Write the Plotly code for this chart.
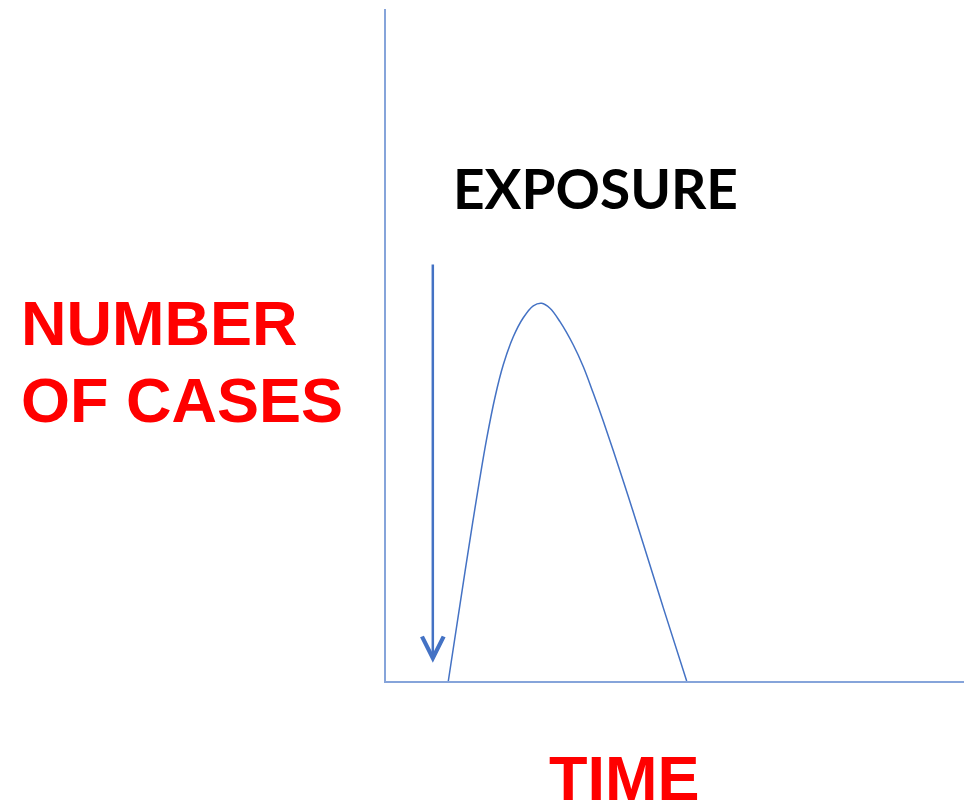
import plotly.graph_objects as go

# ── Data (time and case counts in arbitrary units) ────────────────────────────
time_pts = [10.78, 13.67, 15.10, 16.14, 17.42, 18.86, 20.29, 22.02, 23.75,
            25.48, 26.94, 28.37, 30.10, 32.41, 34.14, 35.87, 37.60, 39.33,
            41.92, 44.52, 47.98, 52.02]
case_pts = [0.0, 16.29, 24.14, 29.67, 36.06, 42.23, 47.05, 51.22, 54.05,
            55.83, 56.21, 55.46, 53.47, 50.00, 46.77, 42.81, 38.65, 34.26,
            27.44, 20.40, 10.88, 0.0]
exposure_time  = 8.1
exposure_start = 62.2   # top of the arrow
exposure_end   = 2.7    # arrow tip

# ── Colours ───────────────────────────────────────────────────────────────────
CURVE = "#4472C4"
AXIS  = "#86A4DA"
RED   = "#FF0000"

fig = go.Figure()
fig.add_trace(go.Scatter(
    x=time_pts, y=case_pts, mode="lines",
    line=dict(color=CURVE, width=1.5, shape="spline", smoothing=1.0),
    hoverinfo="skip", showlegend=False
))

# exposure arrow
fig.add_annotation(
    x=exposure_time, y=exposure_end, ax=exposure_time, ay=exposure_start,
    xref="x", yref="y", axref="x", ayref="y",
    text="", showarrow=True, arrowhead=5, arrowsize=1.7,
    arrowwidth=2.5, arrowcolor=CURVE
)

labels = [
    # text, x, y, xanchor, family, size, colour
    ("<b>EXPOSURE</b>", 0.3616, 0.7336, "center", "Lato", 55, "black"),
    ("<b>NUMBER</b>", -0.6350, 0.5327, "left", "Liberation Sans", 63, RED),
    ("<b>OF CASES</b>", -0.6350, 0.4182, "left", "Liberation Sans", 63, RED),
    ("<b>TIME</b>", 0.4118, -0.1443, "center", "Liberation Sans", 63, RED),
]
for text, x, y, xa, fam, size, col in labels:
    fig.add_annotation(
        x=x, y=y, xref="paper", yref="paper", xanchor=xa, yanchor="middle",
        text=text, showarrow=False,
        font=dict(family=fam, size=size, color=col)
    )

axis_style = dict(showgrid=False, zeroline=False, showticklabels=False,
                  ticks="", showline=True, linecolor=AXIS, linewidth=2,
                  range=[0, 100], fixedrange=True)
fig.update_layout(
    width=964, height=805,
    margin=dict(l=386, r=0, t=9, b=124),
    paper_bgcolor="white", plot_bgcolor="white",
    xaxis=axis_style, yaxis=axis_style,
    showlegend=False
)

fig.write_html("out.html", config={"displayModeBar": False},
               post_script="document.body.style.margin='0';")
